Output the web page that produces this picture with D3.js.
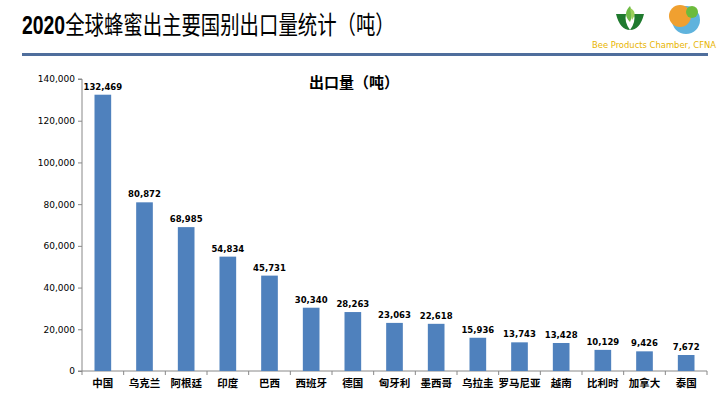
<!DOCTYPE html>
<html>
<head>
<meta charset="utf-8">
<script src="https://cdn.jsdelivr.net/npm/d3@7"></script>
<style>
  body { margin: 0; background: #fff; }
  svg { display: block; font-family: "Noto Sans CJK SC", "Noto Sans", sans-serif; }
</style>
</head>
<body>
<div id="chart"></div>
<script>
// 2020 honey export by country (tonnes)
var countries = ["中国", "乌克兰", "阿根廷", "印度", "巴西", "西班牙", "德国", "匈牙利", "墨西哥", "乌拉圭", "罗马尼亚", "越南", "比利时", "加拿大", "泰国"];
var exportTons = [132469, 80872, 68985, 54834, 45731, 30340, 28263, 23063, 22618, 15936, 13743, 13428, 10129, 9426, 7672];
var yTicks = [0, 20000, 40000, 60000, 80000, 100000, 120000, 140000];

var width = 717, height = 396;
var plotLeft = 82, plotRight = 707, plotTop = 79, plotBottom = 371;

var svg = d3.select("#chart").append("svg")
    .attr("width", width).attr("height", height);

// header: squeeze horizontally like the original slide
var titleG = svg.append("g");
var title = titleG.append("text").attr("x", 0).attr("y", 0)
    .attr("font-size", 25).attr("fill", "#000");
title.append("tspan").attr("font-weight", "bold")
    .attr("font-family", "Liberation Sans, sans-serif").text("2020");
title.append("tspan").text("全球蜂蜜出主要国别出口量统计（吨）");
var natural = title.node().getComputedTextLength();
titleG.attr("transform", "translate(22,34) scale(" + (373 / natural) + ",1)");

svg.append("rect").attr("x", 22).attr("y", 53).attr("width", 686).attr("height", 3).attr("fill", "#4f6e9c");

// logo (rough)
var logo = svg.append("g");
logo.append("path").attr("d", "M616,14 Q620,30 630,30 Q624,22 626,14 Z").attr("fill", "#1f7a2e");
logo.append("path").attr("d", "M644,14 Q640,30 630,30 Q636,22 634,14 Z").attr("fill", "#1f7a2e");
logo.append("path").attr("d", "M630,6 Q622,14 630,22 Q634,14 630,6 Z").attr("fill", "#6dbb45");
logo.append("path").attr("d", "M630,8 Q638,12 632,20 Z").attr("fill", "#9ccf5a");
logo.append("circle").attr("cx", 686).attr("cy", 20).attr("r", 14).attr("fill", "#5fb3dd");
logo.append("circle").attr("cx", 680).attr("cy", 16).attr("r", 11).attr("fill", "#f0a030");
logo.append("circle").attr("cx", 692).attr("cy", 12).attr("r", 6).attr("fill", "#6cbb3c");
logo.append("text").attr("x", 592).attr("y", 48)
    .attr("font-size", 8.5).attr("font-family", "DejaVu Sans Condensed, sans-serif")
    .attr("textLength", 124).attr("lengthAdjust", "spacingAndGlyphs")
    .attr("fill", "#e8b400").text("Bee Products  Chamber, CFNA");

// scales
var x = d3.scaleBand().domain(countries).range([plotLeft, plotRight]).paddingInner(0.6).paddingOuter(0.3);
var y = d3.scaleLinear().domain([0, 140000]).range([plotBottom, plotTop]);

// axes
var yAxis = svg.append("g").attr("transform", "translate(" + plotLeft + ",0)")
    .call(d3.axisLeft(y).tickValues(yTicks).tickFormat(d3.format(",")).tickSize(4));
yAxis.selectAll("text").attr("font-size", 9).attr("font-family", "DejaVu Sans, sans-serif").attr("fill", "#000");
yAxis.selectAll("path,line").attr("stroke", "#888");
yAxis.select(".domain").attr("d", "M-4," + plotBottom + "H0V" + plotTop + "H-4");

var band = (plotRight - plotLeft) / countries.length;
var xAxisG = svg.append("g");
xAxisG.append("line").attr("x1", plotLeft).attr("x2", plotRight).attr("y1", plotBottom).attr("y2", plotBottom).attr("stroke", "#888");
xAxisG.selectAll(".tk").data(d3.range(countries.length + 1)).enter().append("line")
    .attr("x1", function(i) { return plotLeft + i * band; })
    .attr("x2", function(i) { return plotLeft + i * band; })
    .attr("y1", plotBottom).attr("y2", plotBottom + 4).attr("stroke", "#888");
xAxisG.selectAll(".lbl").data(countries).enter().append("text")
    .attr("x", function(d) { return x(d) + x.bandwidth() / 2; })
    .attr("y", 387).attr("text-anchor", "middle")
    .attr("font-size", 10.5).attr("font-weight", "bold").text(function(d) { return d; });

// chart title
svg.append("text").attr("x", 354).attr("y", 88).attr("text-anchor", "middle")
    .attr("font-size", 15).attr("font-weight", "bold").text("出口量（吨）");

// bars
svg.selectAll(".bar").data(exportTons).enter().append("rect")
    .attr("x", function(d, i) { return x(countries[i]); })
    .attr("y", function(d) { return y(d); })
    .attr("width", x.bandwidth())
    .attr("height", function(d) { return plotBottom - y(d); })
    .attr("fill", "#4f81bd");

svg.selectAll(".val").data(exportTons).enter().append("text")
    .attr("x", function(d, i) { return x(countries[i]) + x.bandwidth() / 2; })
    .attr("y", function(d) { return y(d) - 5; })
    .attr("text-anchor", "middle").attr("font-size", 8.5).attr("font-weight", "bold")
    .attr("font-family", "DejaVu Sans, sans-serif")
    .text(function(d) { return d3.format(",")(d); });
</script>
</body>
</html>
